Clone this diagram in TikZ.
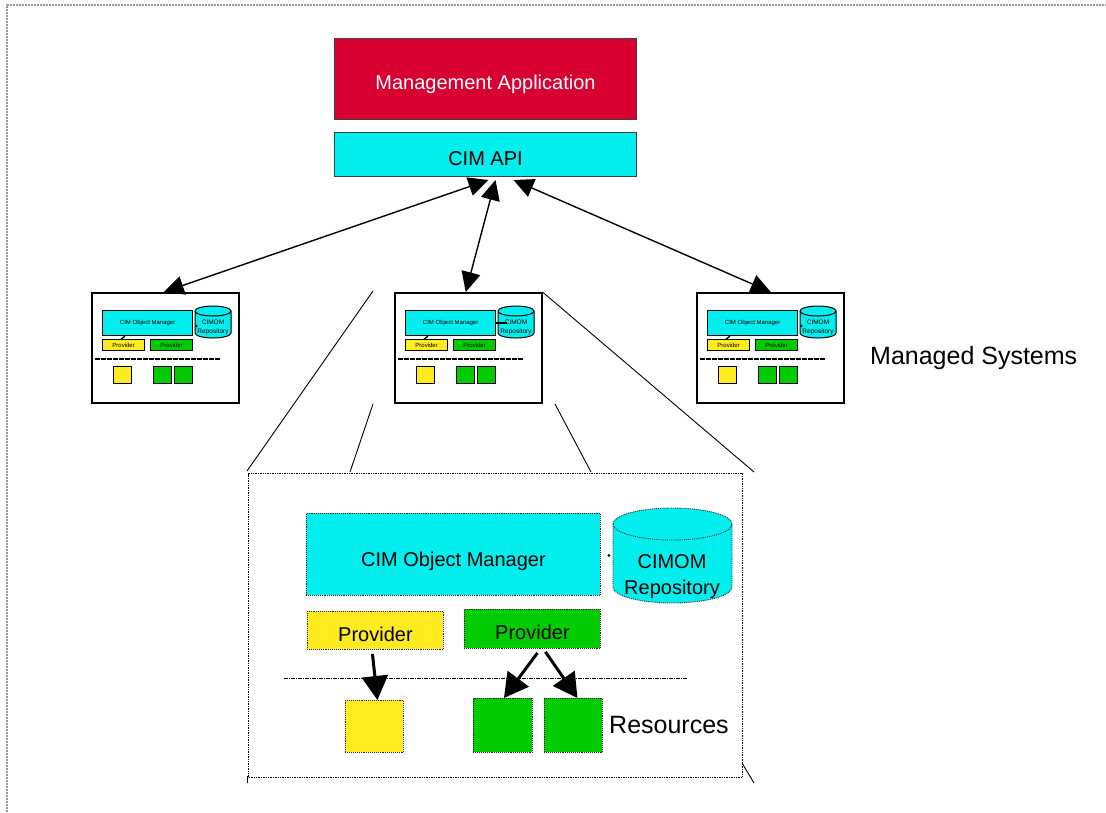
\documentclass[tikz,border=0pt]{standalone}
\usepackage{fontspec}
\setmainfont{Liberation Sans}
\usetikzlibrary{arrows.meta,calc}

\definecolor{appred}{RGB}{216,0,48}
\definecolor{cimcyan}{RGB}{0,238,238}
\definecolor{provyellow}{RGB}{255,235,32}
\definecolor{provgreen}{RGB}{0,204,0}
\definecolor{framegray}{RGB}{150,150,150}

\tikzset{
  box/.style={anchor=north west, inner sep=0pt, align=center},
  topbox/.style={box, draw=black!75, line width=1pt, font=\fontsize{20}{24}\selectfont, text height=21.5pt, text depth=0pt},
  sysbox/.style={box, draw=black, line width=1.5pt, fill=white},
  minibox/.style={box, draw=black, line width=1.2pt, font=\fontsize{6}{7}\selectfont},
  bigpart/.style={box, draw=black!85, line width=0.9pt, densely dotted, font=\fontsize{20}{24}\selectfont, text height=21.5pt, text depth=0pt},
  biglink/.style={{Triangle[length=20pt,width=19pt]}-{Triangle[length=20pt,width=19pt]}, line width=1.4pt},
  reslink/.style={-{Triangle[length=24pt,width=26pt]}, line width=3pt},
  zoomline/.style={line width=0.9pt, black},
  smalldash/.style={line width=1.5pt, dash pattern=on 5pt off 1pt},
  bigdash/.style={line width=1pt, dash pattern=on 4pt off 1pt on 1pt off 1pt},
  label/.style={inner sep=0pt, font=\fontsize{25}{30}\selectfont}
}

% cylinder drawn from its left edge, top edge, width, height and end-ellipse radius
\newcommand{\drum}[6]{%
  \pgfmathsetmacro\drumrx{#3/2}%
  \path[#6] ({#1},{-(#2+#5)}) -- ({#1},{-(#2+#4-#5)})
    arc[start angle=180,end angle=360,x radius=\drumrx,y radius=#5]
    -- ({#1+#3},{-(#2+#5)})
    arc[start angle=0,end angle=180,x radius=\drumrx,y radius=#5] -- cycle;
  \draw[#6,fill=none] ({#1},{-(#2+#5)})
    arc[start angle=180,end angle=360,x radius=\drumrx,y radius=#5];
}

% one managed system: #1 name prefix, #2 left edge
\newcommand{\msys}[2]{%
  \node[sysbox, minimum width=147pt, minimum height=110pt] (#1) at ({#2},-292) {};
  \node[minibox, fill=cimcyan, minimum width=90pt, minimum height=25pt] (#1om) at ({#2+11},-310) {CIM Object Manager};
  \drum{#2+104}{306}{36}{32}{5}{draw=black, line width=1pt, fill=cimcyan}
  \node[inner sep=0pt, align=center, font=\fontsize{6.5}{9}\selectfont] (#1rep) at ({#2+122},-327) {CIMOM\\Repository};
  \node[minibox, fill=provyellow, minimum width=42pt, minimum height=11pt] (#1py) at ({#2+11},-339) {Provider};
  \node[minibox, fill=provgreen, minimum width=42pt, minimum height=11pt] (#1pg) at ({#2+59},-339) {Provider};
  \draw[smalldash] ({#2+4},-359) -- ({#2+129},-359);
  \node[minibox, fill=provyellow, minimum width=18pt, minimum height=17pt] (#1ry) at ({#2+22},-366) {};
  \node[minibox, fill=provgreen, minimum width=18pt, minimum height=17pt] (#1rg) at ({#2+62},-366) {};
  \node[minibox, fill=provgreen, minimum width=18pt, minimum height=17pt] (#1rh) at ({#2+83},-366) {};
  \draw[line width=1.3pt] ($(#1om.south west)+(23,0)$) -- ($(#1py.north west)+(19,0)$);
}

\begin{document}
\begin{tikzpicture}[x=1pt,y=1pt]
\useasboundingbox (0,0) rectangle (1106,-812);

% page frame
\draw[framegray, line width=1.6pt, dash pattern=on 2pt off 1pt] (7,-812) -- (7,-5) -- (1106,-5);

% management station
\node[topbox, fill=appred, text=white, minimum width=302pt, minimum height=81pt] (app) at (334,-38) {Management Application};
\node[topbox, fill=cimcyan, minimum width=302pt, minimum height=44pt] (api) at (334,-132) {CIM API};

% managed systems
\msys{msa}{91}
\msys{msb}{394}
\msys{msc}{696}
\fill (msarep.west) ++(-1,1) circle (1.3pt);
\fill (mscrep.west) ++(-1,1) circle (1.3pt);
\draw[line width=2.2pt] (msbom.east) -- ++(11,0);
\node[label, anchor=west] (mslabel) at (870,-358) {Managed Systems};

% links from the API to each system
\draw[biglink] ([xshift=3pt,yshift=-3pt]api.south) -- ([xshift=-1.5pt]msa.north);
\draw[biglink] ([xshift=10pt,yshift=-3pt]api.south) -- ([xshift=-2.5pt]msb.north);
\draw[biglink] ([xshift=28pt,yshift=-3pt]api.south) -- ([xshift=0.5pt]msc.north);

% zoom lines towards the detail view
\draw[zoomline] (373,-291) -- (247,-471);
\draw[zoomline] (msb.north east) -- (754,-472);
\draw[zoomline] (373,-404) -- (350,-472);
\draw[zoomline] (555,-404) -- (591,-472);
\draw[zoomline] (742,-763) -- (754,-783);
\draw[zoomline] (247,-776) -- (247,-783);

% detail view of one managed system
\node[box, draw=black, line width=1.4pt, densely dotted, minimum width=494pt, minimum height=304pt] (detail) at (248,-473) {};

\node[bigpart, fill=cimcyan, minimum width=294pt, minimum height=82pt, text height=24pt] (om) at (306,-513) {CIM Object Manager};
\drum{613}{508}{119}{95}{16}{draw=black!85, line width=0.9pt, densely dotted, fill=cimcyan}
\node[inner sep=0pt, align=center, font=\fontsize{20}{26}\selectfont] (repo) at (672,-577) {CIMOM\\Repository};
\fill ([xshift=8pt,yshift=-1pt]om.east) circle (1.6pt);

\node[bigpart, fill=provyellow, minimum width=136pt, minimum height=38pt] (provy) at (307,-611) {Provider};
\node[bigpart, fill=provgreen, minimum width=136pt, minimum height=39pt] (provg) at (464,-609) {Provider};

\draw[bigdash] (284,-678) -- (688,-678);

\node[bigpart, fill=provyellow, minimum width=58pt, minimum height=52pt] (resy) at (345,-700) {};
\node[bigpart, fill=provgreen, minimum width=59pt, minimum height=54pt] (resg) at (473,-698) {};
\node[bigpart, fill=provgreen, minimum width=58pt, minimum height=54pt] (resh) at (544,-698) {};
\node[label, anchor=west] (reslabel) at (609,-725) {Resources};

\draw[reslink] ([xshift=-3pt,yshift=-4pt]provy.south) -- ([xshift=3pt]resy.north);
\draw[reslink] ([xshift=5pt,yshift=-4pt]provg.south) -- ([xshift=1pt]resg.north);
\draw[reslink] ([xshift=13pt,yshift=-3pt]provg.south) -- ([xshift=4pt]resh.north);
\end{tikzpicture}
\end{document}
